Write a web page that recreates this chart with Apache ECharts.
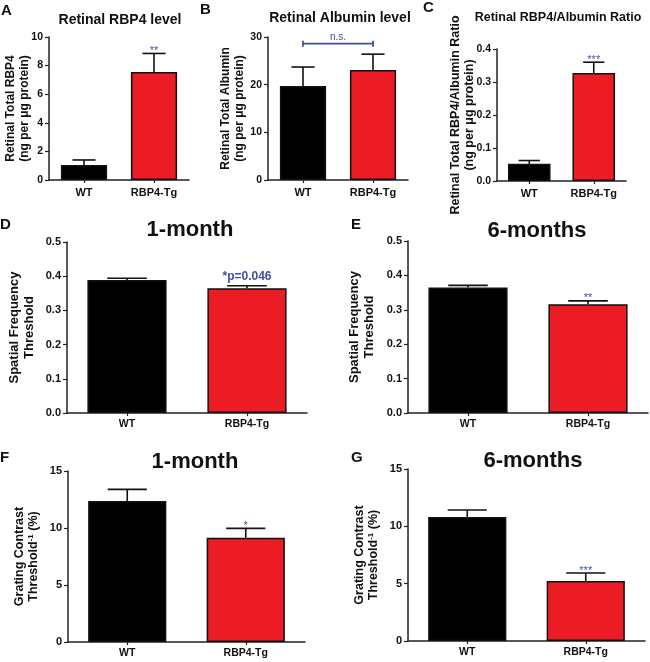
<!DOCTYPE html>
<html><head><meta charset="utf-8">
<script src="https://cdn.jsdelivr.net/npm/echarts@6/dist/echarts.min.js"></script>
<style>html,body{margin:0;padding:0;background:#fff}#c{width:650px;height:662px}</style>
</head><body><div id="c"></div>
<script>
// ---------- data ----------
const categories = ['WT', 'RBP4-Tg'];

const rbp4Mean = [1.05, 7.55];
const rbp4Sem = [0.35, 1.30];
const rbp4Sig = ['', '**'];
const rbp4Axis = [0, 10, 2];

const albMean = [19.7, 23.1];
const albSem = [4.0, 3.3];
const albSig = ['', ''];
const albAxis = [0, 30, 10];
const albBracketY = 28.6;
const albBracketText = 'n.s.';

const ratioMean = [0.052, 0.327];
const ratioSem = [0.010, 0.033];
const ratioSig = ['', '***'];
const ratioAxis = [0, 0.4, 0.1];

const sf1Mean = [0.389, 0.365];
const sf1Sem = [0.005, 0.007];
const sf1Sig = ['', '*p=0.046'];
const sf6Mean = [0.365, 0.316];
const sf6Sem = [0.006, 0.010];
const sf6Sig = ['', '**'];
const sfAxis = [0, 0.5, 0.1];

const gc1Mean = [12.37, 9.15];
const gc1Sem = [1.02, 0.82];
const gc1Sig = ['', '*'];
const gc6Mean = [10.81, 5.23];
const gc6Sem = [0.62, 0.70];
const gc6Sig = ['', '***'];
const gcAxis = [0, 15, 5];

const barColors = ['#000000', '#EC1C24'];

// ---------- layout ----------
const FONT = '"Liberation Sans", Arial, Helvetica, sans-serif';
const BLUE = '#3F51A3';

const panels = [
  {letter:'A', lx:1, ly:11, title:'Retinal RBP4 level', tx:120, ty:20, ts:14,
   mean:rbp4Mean, sem:rbp4Sem, sig:rbp4Sig, axis:rbp4Axis, name:'Retinal Total RBP4\n(ng per μg protein)',
   grid:{left:49, top:37, width:140, height:143}, nameGap:17, noMove:true, nameSize:12, tick:10.5, cat:11, catMargin:7},
  {letter:'B', lx:200, ly:10, title:'Retinal Albumin level', tx:340, ty:18, ts:14,
   mean:albMean, sem:albSem, sig:albSig, axis:albAxis, name:'Retinal Total Albumin\n(ng per μg protein)',
   grid:{left:268, top:37, width:140, height:143}, nameGap:20, nameSize:12, tick:10.5, cat:11, catMargin:7, bracket:true},
  {letter:'C', lx:423, ly:8, title:'Retinal RBP4/Albumin Ratio', tx:558, ty:18, ts:12.5,
   mean:ratioMean, sem:ratioSem, sig:ratioSig, axis:ratioAxis, name:'Retinal Total RBP4/Albumin Ratio\n(ng per μg protein)',
   grid:{left:497, top:49, width:129, height:132}, nameGap:20, noMove:true, nameSize:12.5, tick:10.5, cat:11, catMargin:7},
  {letter:'D', lx:0, ly:225, title:'1-month', tx:190, ty:230, ts:22,
   mean:sf1Mean, sem:sf1Sem, sig:sf1Sig, axis:sfAxis, name:'Spatial Frequency\nThreshold',
   grid:{left:67, top:242, width:240, height:171}, nameGap:30, nameSize:13, tick:11, cat:10.5, catMargin:6},
  {letter:'E', lx:351, ly:225, title:'6-months', tx:537, ty:231, ts:22,
   mean:sf6Mean, sem:sf6Sem, sig:sf6Sig, axis:sfAxis, name:'Spatial Frequency\nThreshold',
   grid:{left:408, top:241, width:240, height:172}, nameGap:31, nameSize:13, tick:11, cat:10.5, catMargin:6},
  {letter:'F', lx:0, ly:458, title:'1-month', tx:195, ty:462, ts:22,
   mean:gc1Mean, sem:gc1Sem, sig:gc1Sig, axis:gcAxis, name:'Grating Contrast\nThreshold{sup|-1} (%)',
   grid:{left:68, top:471, width:237, height:171}, nameGap:27, nameSize:12.5, tick:11, cat:10.5, catMargin:6},
  {letter:'G', lx:351, ly:458, title:'6-months', tx:533, ty:461, ts:22,
   mean:gc6Mean, sem:gc6Sem, sig:gc6Sig, axis:gcAxis, name:'Grating Contrast\nThreshold{sup|-1} (%)',
   grid:{left:408, top:469, width:237, height:172}, nameGap:27, nameSize:12.5, tick:11, cat:10.5, catMargin:6}
];

const BAR_FRAC = 0.66;
const grids = [], xAxes = [], yAxes = [], series = [], titles = [];

panels.forEach((p, i) => {
  grids.push(Object.assign({containLabel:false}, p.grid));
  titles.push({text:p.letter, left:p.lx, top:p.ly, padding:0, textVerticalAlign:'middle',
    textStyle:{fontFamily:FONT, fontWeight:'bold', fontSize:15, color:'#111'}});
  titles.push({text:p.title, left:p.tx, top:p.ty, padding:0, textAlign:'center', textVerticalAlign:'middle',
    textStyle:{fontFamily:FONT, fontWeight:'bold', fontSize:p.ts, color:'#111'}});
  xAxes.push({type:'category', gridIndex:i, data:categories,
    axisLine:{show:true, lineStyle:{color:'#222', width:1.5}},
    axisTick:{show:true, alignWithLabel:true, length:3, lineStyle:{color:'#222', width:1.2}},
    axisLabel:{fontFamily:FONT, fontWeight:'bold', fontSize:p.cat, color:'#111', margin:p.catMargin},
    splitLine:{show:false}});
  const ya = {type:'value', gridIndex:i, min:p.axis[0], max:p.axis[1], interval:p.axis[2],
    name:p.name, nameLocation:'middle', nameGap:p.nameGap,
    nameTextStyle:{fontFamily:FONT, fontWeight:'bold', fontSize:p.nameSize, color:'#111', lineHeight:p.nameSize+2,
      rich:{sup:{fontFamily:FONT, fontWeight:'bold', fontSize:8, color:'#111', verticalAlign:'top', lineHeight:p.nameSize+2}}},
    axisLine:{show:true, lineStyle:{color:'#222', width:1.5}},
    axisTick:{show:true, length:4, lineStyle:{color:'#222', width:1.2}},
    axisLabel:{fontFamily:FONT, fontWeight:'bold', fontSize:p.tick, color:'#111', margin:6,
      formatter: v => (p.axis[2] < 1 ? v.toFixed(1) : String(v))},
    splitLine:{show:false}};
  if (p.noMove) ya.nameMoveOverlap = false;
  yAxes.push(ya);
  series.push({type:'bar', xAxisIndex:i, yAxisIndex:i, barWidth:(BAR_FRAC*100)+'%',
    data:p.mean.map((m, j) => ({value:m, itemStyle:{color:barColors[j], borderColor:'#111', borderWidth:1.5}})),
    silent:true});
  const sig = p.sig;
  series.push({type:'custom', xAxisIndex:i, yAxisIndex:i, silent:true,
    data:p.mean.map((m, j) => [j, m, p.sem[j]]),
    renderItem:(params, api) => {
      const x = api.value(0), m = api.value(1), s = api.value(2);
      const base = api.coord([x, m]), top = api.coord([x, m + s]);
      const hw = api.size([1, 0])[0] * BAR_FRAC / 4;
      const ch = [
        {type:'line', shape:{x1:base[0], y1:base[1], x2:top[0], y2:top[1]}, style:{stroke:'#111', lineWidth:1.6}},
        {type:'line', shape:{x1:top[0]-hw, y1:top[1], x2:top[0]+hw, y2:top[1]}, style:{stroke:'#111', lineWidth:1.6}}
      ];
      const lbl = sig[params.dataIndex];
      if (lbl) {
        const big = lbl.length > 3;
        ch.push({type:'text', style:{text:lbl, x:top[0], y:top[1] + (big ? -3 : 3), align:'center', verticalAlign:'bottom',
          fill:BLUE, fontFamily:FONT, fontWeight:big ? 'bold' : 'normal', fontSize:big ? 12 : 11}});
      }
      return {type:'group', children:ch};
    }});
  if (p.bracket) {
    series.push({type:'custom', xAxisIndex:i, yAxisIndex:i, silent:true,
      data:[[0, 1, albBracketY]],
      renderItem:(params, api) => {
        const a = api.coord([api.value(0), api.value(2)]);
        const b = api.coord([api.value(1), api.value(2)]);
        const st = {stroke:BLUE, lineWidth:1.8};
        return {type:'group', children:[
          {type:'line', shape:{x1:a[0], y1:a[1], x2:b[0], y2:b[1]}, style:st},
          {type:'line', shape:{x1:a[0], y1:a[1]-3, x2:a[0], y2:a[1]+3}, style:st},
          {type:'line', shape:{x1:b[0], y1:b[1]-3, x2:b[0], y2:b[1]+3}, style:st},
          {type:'text', style:{text:albBracketText, x:(a[0]+b[0])/2, y:a[1]-1, align:'center', verticalAlign:'bottom',
            fill:BLUE, fontFamily:FONT, fontSize:10}}
        ]};
      }});
  }
});

const chart = echarts.init(document.getElementById('c'), null, {renderer:'canvas'});
chart.setOption({animation:false, backgroundColor:'#fff', title:titles, grid:grids, xAxis:xAxes, yAxis:yAxes, series:series});
</script></body></html>
